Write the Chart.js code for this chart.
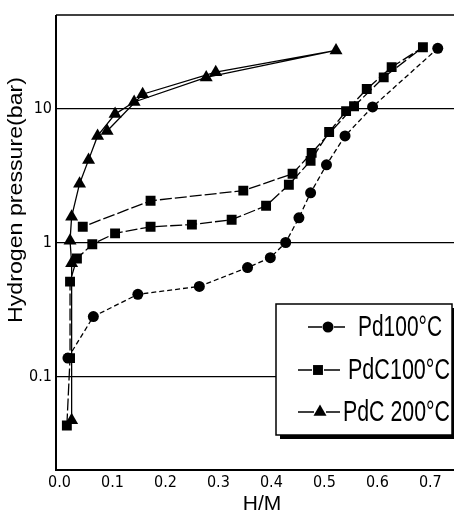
<!DOCTYPE html>
<html>
<head>
<meta charset="utf-8">
<script src="https://cdn.jsdelivr.net/npm/chart.js@4/dist/chart.umd.min.js"></script>
<style>
  html, body { margin: 0; padding: 0; background: #fff; }
  #wrap { width: 454px; height: 514px; overflow: hidden; position: relative; }
  #isotherm { display: block; }
</style>
</head>
<body>
<div id="wrap"><canvas id="isotherm" width="470" height="514"></canvas></div>
<script>
// Pd at 100 °C (H/M, pressure in bar)
const pd100X = [0.016, 0.064, 0.148, 0.264, 0.355, 0.398, 0.427, 0.452, 0.474, 0.504, 0.539, 0.591, 0.714];
const pd100P = [0.137, 0.28, 0.41, 0.47, 0.65, 0.77, 1.0, 1.53, 2.35, 3.8, 6.25, 10.3, 28.2];

// PdC at 100 °C, absorption then desorption
const pdc100X = [0.014, 0.020, 0.020, 0.033, 0.062, 0.105, 0.172, 0.250, 0.325, 0.390, 0.433, 0.474, 0.509, 0.541, 0.580, 0.627, 0.686,
                 0.612, 0.556, 0.476, 0.440, 0.347, 0.172, 0.044];
const pdc100P = [0.043, 0.137, 0.51, 0.76, 0.97, 1.17, 1.31, 1.36, 1.48, 1.88, 2.70, 4.07, 6.69, 9.58, 14.0, 20.4, 28.7,
                 17.1, 10.4, 4.67, 3.26, 2.44, 2.05, 1.31];

// PdC at 200 °C, absorption then desorption
const pdc200X = [0.023, 0.023, 0.020, 0.023, 0.038, 0.055, 0.072, 0.105, 0.141, 0.277, 0.522, 0.295, 0.157, 0.090];
const pdc200P = [0.047, 0.70, 1.03, 1.56, 2.75, 4.14, 6.25, 9.1, 11.2, 17.1, 27.2, 18.7, 12.8, 6.8];

const xTicks = [0.0, 0.1, 0.2, 0.3, 0.4, 0.5, 0.6, 0.7];
const yTicks = [0.1, 1, 10];

const seriesNames = ["Pd100°C", "PdC100°C", "PdC 200°C"];

const narrow = '"Liberation Sans Narrow", "DejaVu Sans Condensed", "Liberation Sans", Arial, sans-serif';

function toPoints(xs, ys) {
    return xs.map((x, i) => ({ x: x, y: ys[i] }));
}

const seriesStyle = [
    { pointStyle: "circle", pointRadius: 5.5, borderDash: [5, 3] },
    { pointStyle: "rect", pointRadius: 7, borderDash: [12, 3] },
    { pointStyle: "triangle", pointRadius: 7.5, borderDash: [] }
];

const datasets = [
    toPoints(pd100X, pd100P),
    toPoints(pdc100X, pdc100P),
    toPoints(pdc200X, pdc200P)
].map((pts, i) => ({
    label: seriesNames[i],
    data: pts,
    showLine: true,
    borderColor: "#000",
    backgroundColor: "#000",
    borderWidth: 1.3,
    borderDash: seriesStyle[i].borderDash,
    pointStyle: seriesStyle[i].pointStyle,
    pointRadius: seriesStyle[i].pointRadius,
    pointBorderWidth: 0,
    pointBackgroundColor: "#000",
    tension: 0
}));

// plot frame on top of the grid
const framePlugin = {
    id: "frame",
    beforeDatasetsDraw(chart) {
        const { ctx, chartArea: a } = chart;
        ctx.save();
        ctx.strokeStyle = "#000";
        ctx.lineWidth = 2;
        ctx.beginPath();
        ctx.moveTo(a.left, a.top);
        ctx.lineTo(a.left, a.bottom);
        ctx.lineTo(a.right + 5, a.bottom);
        ctx.stroke();
        ctx.lineWidth = 1.5;
        ctx.beginPath();
        ctx.moveTo(a.left, a.top);
        ctx.lineTo(a.right + 5, a.top);
        ctx.stroke();
        ctx.restore();
    }
};

// axis titles and the boxed legend with drop shadow
const decorPlugin = {
    id: "decor",
    afterDraw(chart) {
        const ctx = chart.ctx;
        ctx.save();
        ctx.fillStyle = "#000";

        ctx.font = '21px "Liberation Sans", Arial, sans-serif';
        ctx.textAlign = "center";
        ctx.textBaseline = "middle";
        ctx.fillText("H/M", 262, 504);

        ctx.translate(16, 200);
        ctx.rotate(-Math.PI / 2);
        const title = "Hydrogen pressure(bar)";
        const tw = ctx.measureText(title).width;
        ctx.scale(246 / tw, 1);
        ctx.fillText(title, 0, 0);
        ctx.restore();

        // legend box
        const bx = 276, by = 304, bw = 176, bh = 131;
        ctx.save();
        ctx.fillStyle = "#000";
        ctx.fillRect(bx + 4, by + 4, bw, bh);
        ctx.fillStyle = "#fff";
        ctx.fillRect(bx, by, bw, bh);
        ctx.strokeStyle = "#000";
        ctx.lineWidth = 1.5;
        ctx.strokeRect(bx, by, bw, bh);

        const rows = [
            { y: 327, x0: 308, x1: 345, mx: 328, tx: 358, tw: 84 },
            { y: 370, x0: 298, x1: 340, mx: 318, tx: 348, tw: 102 },
            { y: 412, x0: 298, x1: 340, mx: 320, tx: 343, tw: 107 }
        ];
        rows.forEach((r, i) => {
            const ds = chart.data.datasets[i];
            ctx.strokeStyle = "#000";
            ctx.lineWidth = 1.3;
            ctx.setLineDash([]);
            ctx.beginPath();
            ctx.moveTo(r.x0, r.y);
            ctx.lineTo(r.mx - 6, r.y);
            ctx.moveTo(r.mx + 6, r.y);
            ctx.lineTo(r.x1, r.y);
            ctx.stroke();
            ctx.fillStyle = "#000";
            Chart.helpers.drawPoint(ctx, {
                pointStyle: ds.pointStyle,
                radius: ds.pointRadius,
                borderWidth: 0,
                rotation: 0
            }, r.mx, r.y);

            ctx.save();
            ctx.font = '30px "Liberation Sans", Arial, sans-serif';
            ctx.textAlign = "left";
            ctx.textBaseline = "middle";
            const w = ctx.measureText(ds.label).width;
            ctx.translate(r.tx, r.y + 1);
            ctx.scale(r.tw / w, 1);
            ctx.fillText(ds.label, 0, 0);
            ctx.restore();
        });
        ctx.restore();
    }
};

new Chart(document.getElementById("isotherm"), {
    type: "line",
    data: { datasets: datasets },
    options: {
        responsive: false,
        animation: false,
        devicePixelRatio: 1,
        layout: { padding: { left: 0, top: 15, right: 2, bottom: 0 } },
        plugins: {
            legend: { display: false },
            tooltip: { enabled: false }
        },
        scales: {
            x: {
                type: "linear",
                min: -0.0065,
                max: 0.7607,
                grid: { display: false, drawTicks: false },
                border: { display: false },
                afterBuildTicks: (s) => { s.ticks = xTicks.map(v => ({ value: v })); },
                afterFit: (s) => { s.height = 44; },
                ticks: {
                    color: "#000",
                    padding: 3,
                    maxRotation: 0,
                    font: { family: narrow, size: 16 },
                    callback: (v) => v.toFixed(1)
                }
            },
            y: {
                type: "logarithmic",
                min: 0.02,
                max: 50,
                grid: { color: "#000", lineWidth: 1.2, drawTicks: false },
                border: { display: false },
                afterBuildTicks: (s) => { s.ticks = yTicks.map(v => ({ value: v })); },
                afterFit: (s) => { s.width = 56; },
                ticks: {
                    color: "#000",
                    padding: 4,
                    font: { family: narrow, size: 16 },
                    callback: (v) => String(v)
                }
            }
        }
    },
    plugins: [framePlugin, decorPlugin]
});
</script>
</body>
</html>
